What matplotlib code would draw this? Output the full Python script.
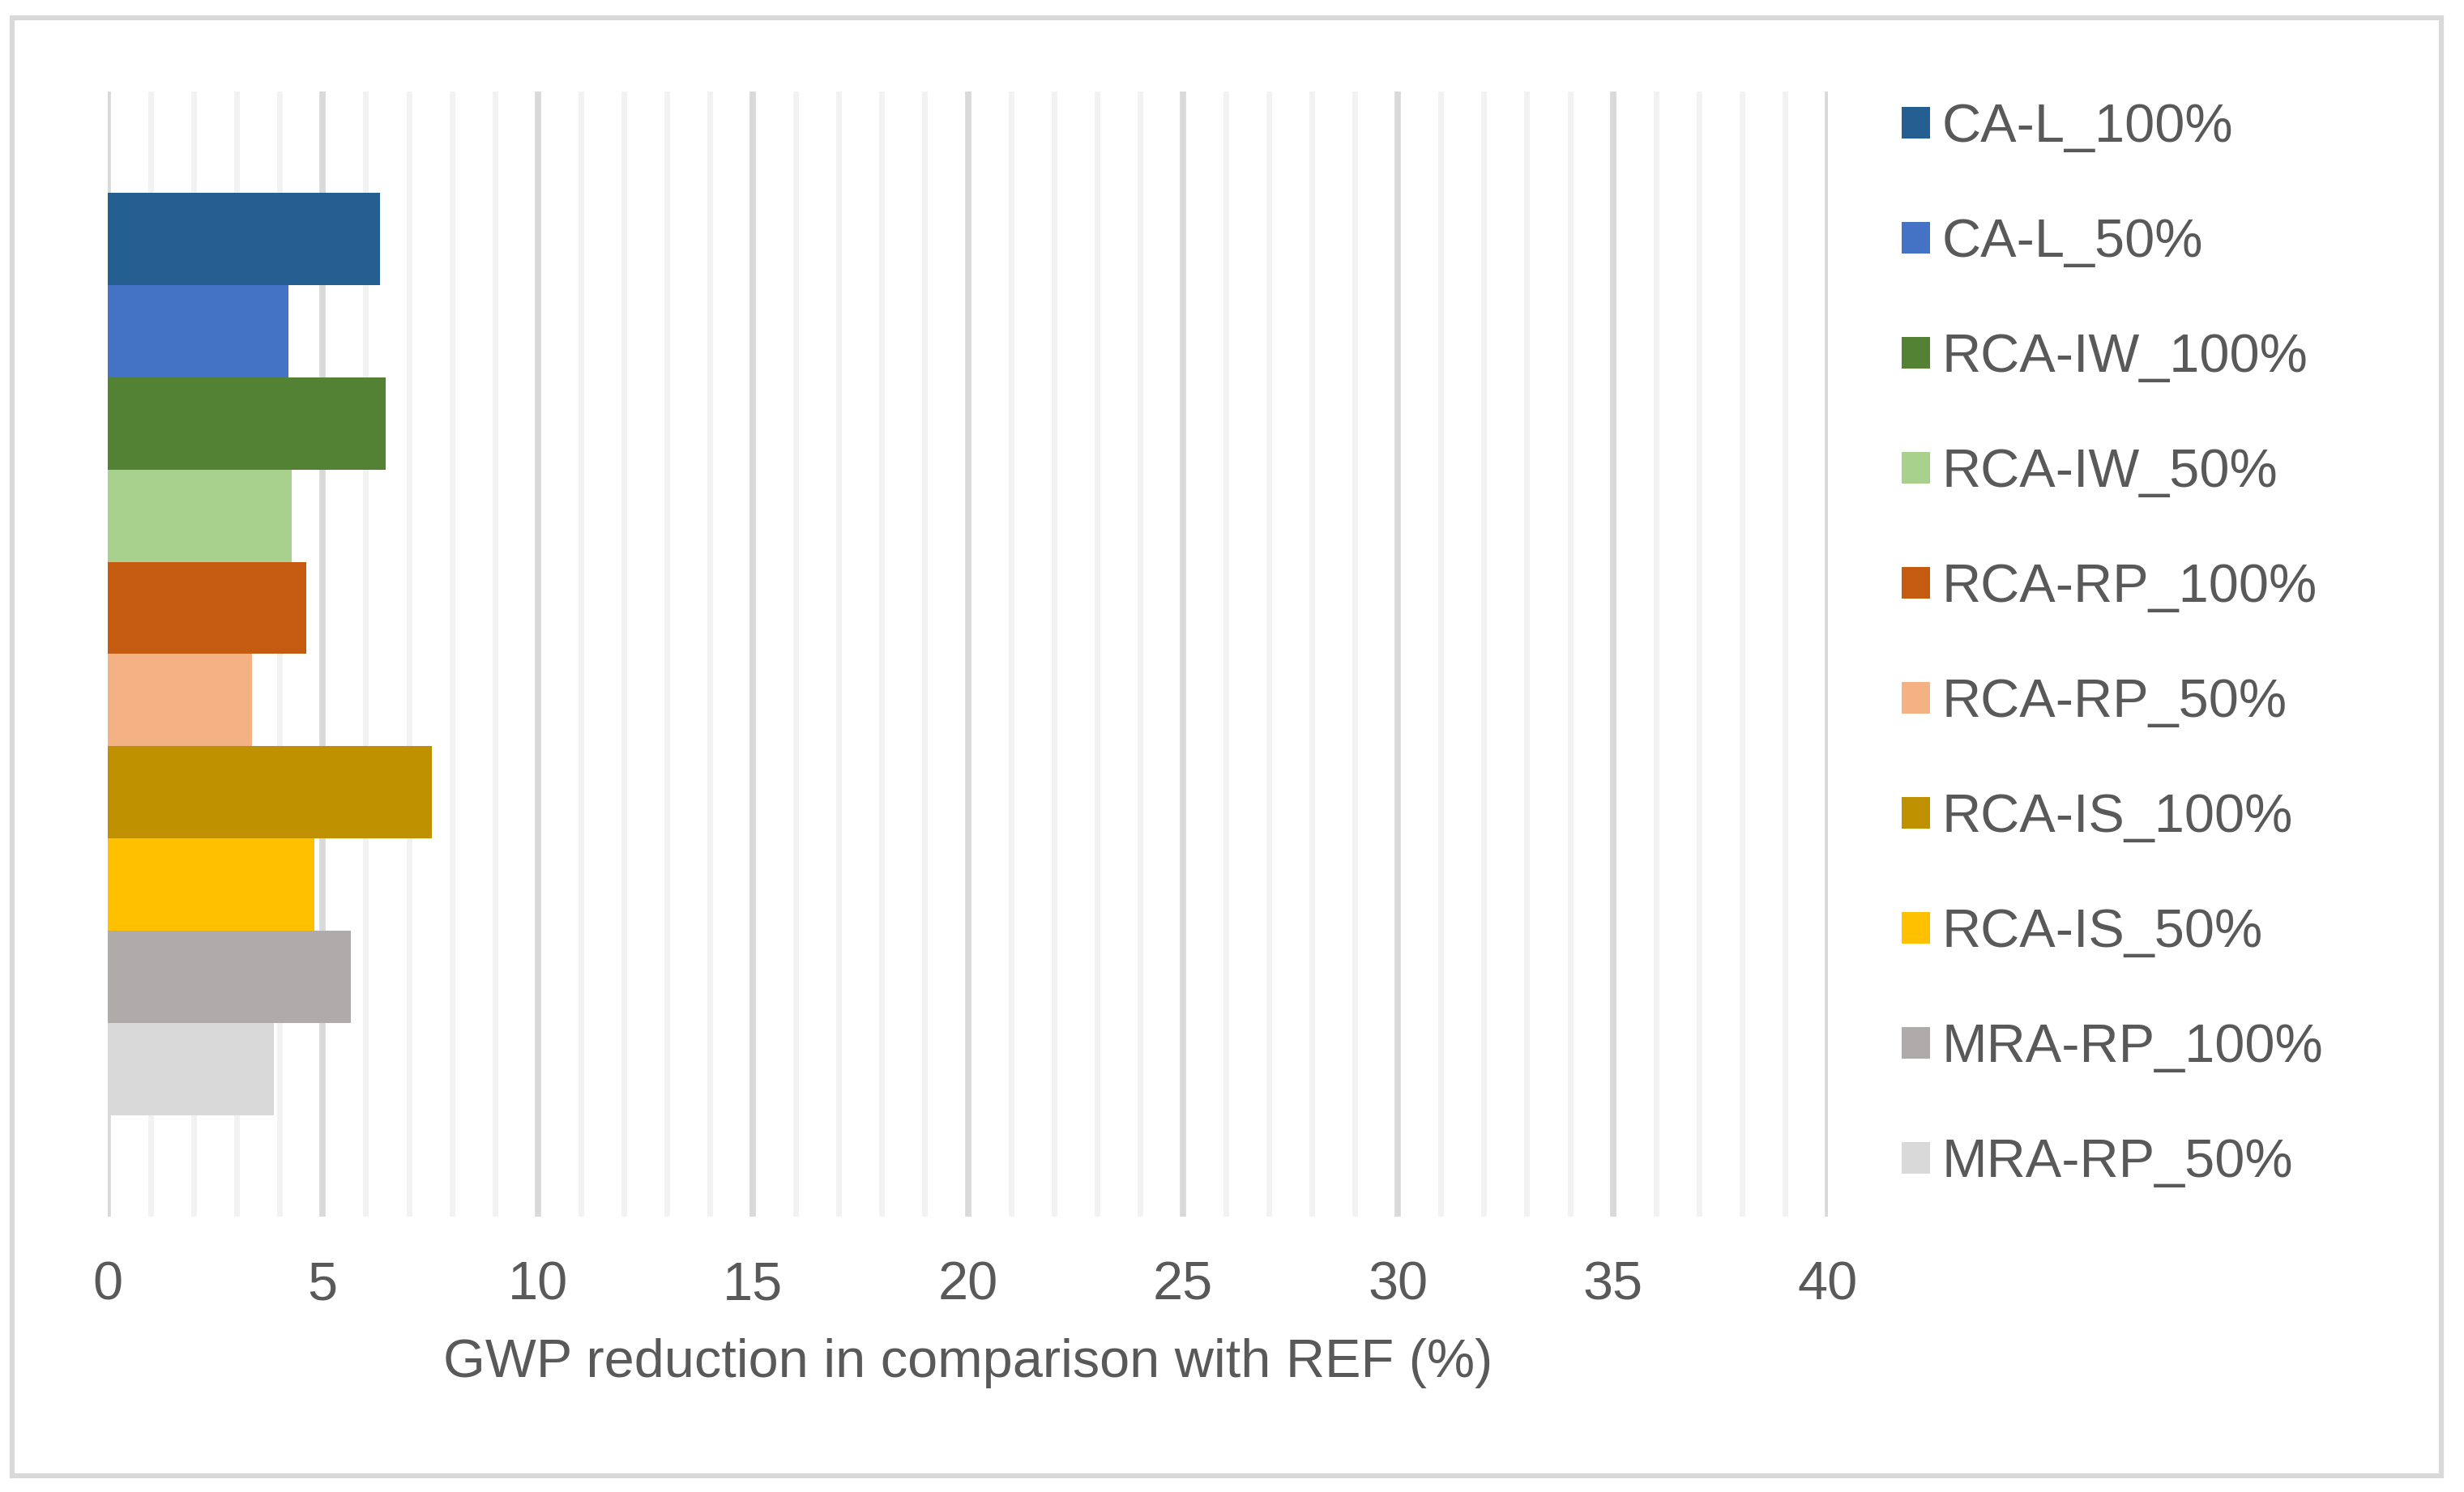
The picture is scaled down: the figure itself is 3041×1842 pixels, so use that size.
import numpy as np
import matplotlib.pyplot as plt
from matplotlib.patches import Rectangle
from matplotlib.ticker import MultipleLocator

plt.rcParams['font.family'] = ['Liberation Sans', 'DejaVu Sans']

# Series (one category, ten mixes)
labels = ['CA-L_100%', 'CA-L_50%', 'RCA-IW_100%', 'RCA-IW_50%', 'RCA-RP_100%',
          'RCA-RP_50%', 'RCA-IS_100%', 'RCA-IS_50%', 'MRA-RP_100%', 'MRA-RP_50%']
values = [6.33, 4.20, 6.46, 4.27, 4.61, 3.35, 7.53, 4.80, 5.65, 3.86]
colors = ['#255E91', '#4472C4', '#548235', '#A9D18E', '#C55A11',
          '#F4B183', '#BF9000', '#FFC000', '#AFABAB', '#D9D9D9']

txt = '#595959'
W, H = 3041, 1842

fig = plt.figure(figsize=(W / 100, H / 100), dpi=100)
ax = fig.add_axes([133 / W, 1 - 1502 / H, (2256 - 133) / W, (1502 - 113) / H])

# outer chart border
fig.patches.append(Rectangle((15 / W, 1 - 1822 / H), (3013 - 15) / W, (1822 - 22) / H,
                             transform=fig.transFigure, fill=False,
                             edgecolor='#D9D9D9', lw=4.5))

y = np.arange(len(values))
for i in range(len(values)):
    ax.barh(y[i], values[i], height=1.0, color=colors[i], label=labels[i], zorder=3)

gap = 1.097
ax.set_ylim(len(values) - 0.5 + gap, -0.5 - gap)
ax.set_xlim(0, 40)
ax.xaxis.set_major_locator(MultipleLocator(5))
ax.xaxis.set_minor_locator(MultipleLocator(1))
ax.grid(which='major', axis='x', color='#D9D9D9', lw=5.5, zorder=1)
ax.grid(which='minor', axis='x', color='#F2F2F2', lw=5.0, zorder=0)
ax.set_axisbelow(True)
ax.set_yticks([])
for s in ax.spines.values():
    s.set_visible(False)
ax.tick_params(axis='x', which='both', length=0, pad=39, labelsize=48, labelcolor=txt)
ax.set_xlabel('GWP reduction in comparison with REF (%)', fontsize=48, color=txt, labelpad=24)

ax.legend(loc='upper left', bbox_to_anchor=(2347 / W, 1 - 127 / H),
          bbox_transform=fig.transFigure, frameon=False, fontsize=48,
          labelcolor=txt, handlelength=0.525, handleheight=0.525,
          handletextpad=0.22, labelspacing=1.2, borderpad=0, borderaxespad=0)

fig.savefig('out.png', dpi=100, facecolor='white')
